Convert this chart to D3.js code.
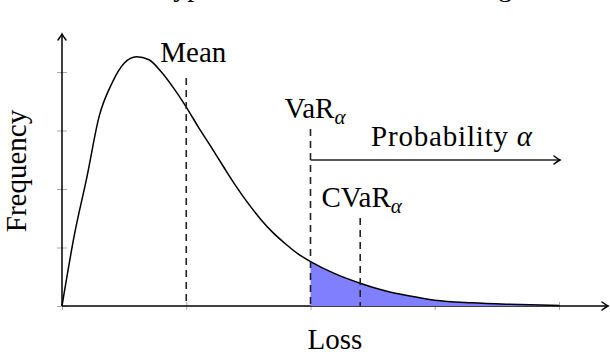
<!DOCTYPE html>
<html>
<head>
<meta charset="utf-8">
<script src="https://cdn.jsdelivr.net/npm/d3@7"></script>
<style>
  html, body { margin: 0; padding: 0; background: #fff; }
  #chart-container { width: 610px; height: 354px; }
</style>
</head>
<body>
<div id="chart-container"></div>
<script>
// Loss values (x) and density (y)
const lossValues = [0, 0.1, 0.2, 0.3, 0.4, 0.5, 0.6, 0.7, 0.8, 0.9, 1.0, 1.1, 1.2, 1.3, 1.4, 1.5,
  1.6, 1.7, 1.8, 1.9, 2.0, 2.2, 2.4, 2.6, 2.8, 3.0, 3.3, 3.6, 4.0];
const frequencyValues = [0, 1.22, 2.2, 3.25, 3.8, 4.15, 4.26, 4.21, 4.0, 3.72, 3.4, 3.05, 2.72, 2.38,
  2.05, 1.75, 1.48, 1.25, 1.06, 0.89, 0.76, 0.55, 0.39, 0.26, 0.17, 0.1, 0.055, 0.03, 0.01];

const xTicks = [0, 1, 2, 3, 4];
const yTicks = [0, 1, 2, 3, 4];

const meanLoss = 1.0;
const varLoss = 2.0;
const cvarLoss = 2.4;
const tailEnd = 4.0;

const titleText = "Typical loss distribution: a long tail";
const xLabel = "Loss";
const yLabel = "Frequency";

class LossChart {
  constructor() {
    const attrs = {
      container: "#chart-container",
      svgWidth: 610,
      svgHeight: 354,
      originX: 62,
      originY: 306,
      xEnd: 559,
      yTop: 72,
      font: "'Liberation Serif', 'Times New Roman', serif",
      fontSize: 29,
      tailFill: "#8080ff",
    };
    this.getState = () => attrs;
    this.setState = (d) => Object.assign(attrs, d);
  }

  render() {
    this.drawSvg();
    this.drawAxes();
    this.drawCurve();
    this.drawMarkers();
    return this;
  }

  drawSvg() {
    const { container, svgWidth, svgHeight, font, fontSize, originX, originY, xEnd, yTop } =
      this.getState();
    const svg = d3.select(container).append("svg")
      .attr("width", svgWidth)
      .attr("height", svgHeight)
      .attr("font-family", font)
      .attr("font-size", fontSize);

    const defs = svg.append("defs");
    // open chevron arrow head, tikz style
    defs.append("marker")
      .attr("id", "arrow")
      .attr("viewBox", "-8 -6 10 12")
      .attr("markerWidth", 10)
      .attr("markerHeight", 12)
      .attr("markerUnits", "userSpaceOnUse")
      .attr("orient", "auto")
      .append("path")
      .attr("d", "M-6,-4 Q-2,-1 0,0 Q-2,1 -6,4")
      .attr("fill", "none")
      .attr("stroke", "#000")
      .attr("stroke-width", 1.5)
      .attr("stroke-linecap", "round");

    const x = d3.scaleLinear().domain([0, 4]).range([originX, xEnd]);
    const y = d3.scaleLinear().domain([0, 4]).range([originY, yTop]);

    this.setState({ svg, x, y });
  }

  drawAxes() {
    const { svg, x, y, originX, originY, svgWidth } = this.getState();

    // title, mostly cut off at the top edge
    svg.append("text")
      .attr("x", 158)
      .attr("y", -4)
      .attr("font-size", 28)
      .text(titleText);

    // ticks straddle the axis lines
    const xAxis = svg.append("g")
      .attr("transform", `translate(0,${originY})`)
      .call(d3.axisBottom(x).tickValues(xTicks).tickSize(4).tickFormat(""));
    xAxis.select(".domain").remove();
    xAxis.selectAll(".tick line").attr("y1", -4).attr("stroke", "#aaa");

    const yAxis = svg.append("g")
      .attr("transform", `translate(${originX},0)`)
      .call(d3.axisLeft(y).tickValues(yTicks).tickSize(5).tickFormat(""));
    yAxis.select(".domain").remove();
    yAxis.selectAll(".tick line").attr("x1", 5).attr("stroke", "#aaa");

    svg.append("line")
      .attr("x1", originX).attr("y1", originY)
      .attr("x2", svgWidth - 2).attr("y2", originY)
      .attr("stroke", "#000").attr("stroke-width", 1.5)
      .attr("marker-end", "url(#arrow)");

    svg.append("line")
      .attr("x1", originX).attr("y1", originY)
      .attr("x2", originX).attr("y2", 34)
      .attr("stroke", "#000").attr("stroke-width", 1.5)
      .attr("marker-end", "url(#arrow)");

    svg.append("text")
      .attr("x", 335)
      .attr("y", 349)
      .attr("text-anchor", "middle")
      .text(xLabel);

    svg.append("text")
      .attr("transform", "translate(26,171) rotate(-90)")
      .attr("text-anchor", "middle")
      .text(yLabel);
  }

  drawCurve() {
    const { svg, x, y, tailFill } = this.getState();
    const points = lossValues.map((v, i) => ({ loss: v, freq: frequencyValues[i] }));
    const tail = points.filter((d) => d.loss >= varLoss && d.loss <= tailEnd);

    svg.append("path")
      .datum(tail)
      .attr("d", d3.area()
        .x((d) => x(d.loss))
        .y0(y(0))
        .y1((d) => y(d.freq))
        .curve(d3.curveMonotoneX))
      .attr("fill", tailFill);

    svg.append("path")
      .datum(points)
      .attr("d", d3.line()
        .x((d) => x(d.loss))
        .y((d) => y(d.freq))
        .curve(d3.curveMonotoneX))
      .attr("fill", "none")
      .attr("stroke", "#000")
      .attr("stroke-width", 1.5);
  }

  drawMarkers() {
    const { svg, x, originY } = this.getState();

    const markers = [
      { value: meanLoss, top: 78 },
      { value: varLoss, top: 129 },
      { value: cvarLoss, top: 218 },
    ];

    svg.selectAll(".marker-line")
      .data(markers)
      .enter()
      .append("line")
      .attr("class", "marker-line")
      .attr("x1", (d) => x(d.value))
      .attr("x2", (d) => x(d.value))
      .attr("y1", (d) => d.top)
      .attr("y2", originY)
      .attr("stroke", "#222")
      .attr("stroke-width", 1.6)
      .attr("stroke-dasharray", "7,5");

    svg.append("text")
      .attr("x", x(meanLoss) + 7)
      .attr("y", 62)
      .attr("text-anchor", "middle")
      .text("Mean");

    const varText = svg.append("text")
      .attr("x", x(varLoss) - 26)
      .attr("y", 118);
    varText.append("tspan").text("VaR");
    varText.append("tspan")
      .attr("dy", 6)
      .attr("font-size", 21)
      .attr("font-style", "italic")
      .text("α");

    const cvarText = svg.append("text")
      .attr("x", x(varLoss) + 11)
      .attr("y", 207);
    cvarText.append("tspan").text("CVaR");
    cvarText.append("tspan")
      .attr("dy", 6)
      .attr("font-size", 21)
      .attr("font-style", "italic")
      .text("α");

    // probability arrow from VaR to the end of the tail
    svg.append("line")
      .attr("x1", x(varLoss))
      .attr("x2", x(tailEnd) + 1)
      .attr("y1", 160)
      .attr("y2", 160)
      .attr("stroke", "#222")
      .attr("stroke-width", 1.5)
      .attr("marker-end", "url(#arrow)");

    const probText = svg.append("text")
      .attr("x", 452)
      .attr("y", 146)
      .attr("letter-spacing", 0.8)
      .attr("text-anchor", "middle");
    probText.append("tspan").text("Probability ");
    probText.append("tspan").attr("font-style", "italic").text("α");
  }
}

new LossChart().render();
</script>
</body>
</html>
